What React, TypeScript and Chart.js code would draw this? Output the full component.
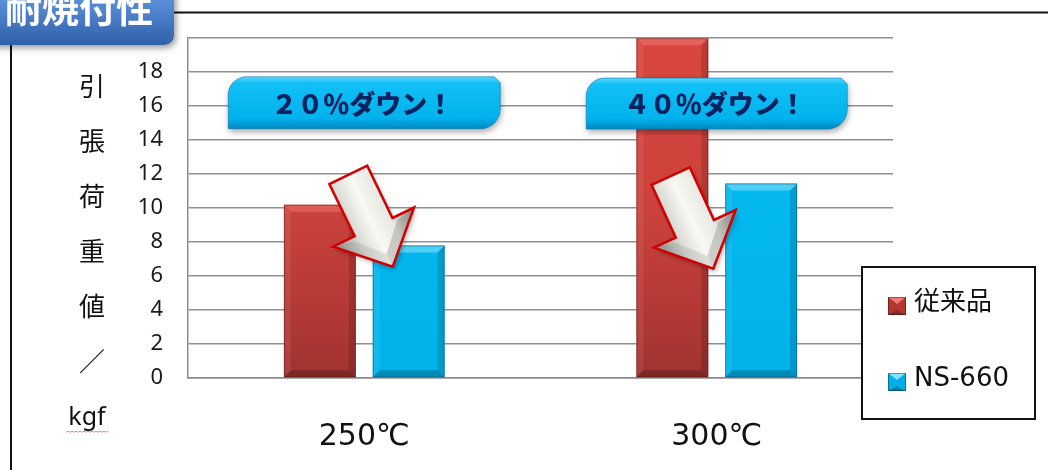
import React, { useEffect, useRef } from "react";
import { Chart, registerables } from "chart.js";

Chart.register(...registerables);

// ---------- data ----------
const categories = ["250℃", "300℃"];
const seriesNames = ["従来品", "NS-660"];
const conventionalValues = [10.2, 20];
const ns660Values = [7.8, 11.45];
const yMin = 0;
const yMax = 20;
const yStep = 2;
const hiddenTickValues = [20];
const chartTitle = "耐焼付性";
const yTitleParts = ["引", "張", "荷", "重", "値", "／", "kgf"];
const calloutTexts = ["２０％ダウン！", "４０％ダウン！"];

// ---------- annotation layout (positions / sizes only) ----------
const calloutLayout = [
  { cat: 0, dx: 0, yVal: 16.2, w: 272, h: 52 },
  { cat: 1, dx: 0, yVal: 16.15, w: 261, h: 51 },
];
const arrowLayout = [
  { cat: 0, dx: 28.5, tipVal: 6.55, angle: -25.8 },
  { cat: 1, dx: -3.5, tipVal: 6.43, angle: -24.7 },
];

const CJK = '"Noto Sans CJK JP", "DejaVu Sans", sans-serif';

function roundDiagRect(ctx: CanvasRenderingContext2D, x0: number, y0: number, x1: number, y1: number) {
  const r1 = 18, r2 = 20, c = 6;
  ctx.beginPath();
  ctx.moveTo(x0, y1);
  ctx.lineTo(x0, y0 + r1);
  ctx.arcTo(x0, y0, x0 + r1, y0, r1);
  ctx.lineTo(x1 - c, y0);
  ctx.lineTo(x1, y0 + c);
  ctx.lineTo(x1, y1 - r2);
  ctx.arcTo(x1, y1, x1 - r2, y1, r2);
  ctx.lineTo(x0, y1);
  ctx.closePath();
}

function drawArrow(ctx: CanvasRenderingContext2D, tx: number, ty: number, angleDeg: number) {
  const pts = [[0, 0], [45, -44], [21, -44], [21, -102], [-21, -102], [-21, -44], [-45, -44]];
  ctx.save();
  ctx.translate(tx, ty);
  ctx.rotate((angleDeg * Math.PI) / 180);
  ctx.beginPath();
  pts.forEach((p, i) => (i ? ctx.lineTo(p[0], p[1]) : ctx.moveTo(p[0], p[1])));
  ctx.closePath();
  ctx.shadowColor = "rgba(0,0,0,0.3)";
  ctx.shadowBlur = 5;
  ctx.shadowOffsetX = 2;
  ctx.shadowOffsetY = 3;
  const g = ctx.createLinearGradient(-45, 0, 45, 0);
  g.addColorStop(0, "#8a8a86");
  g.addColorStop(0.3, "#dcdcd6");
  g.addColorStop(0.5, "#f8f8f4");
  g.addColorStop(0.72, "#e8e8e2");
  g.addColorStop(1, "#8e8e8a");
  ctx.fillStyle = g;
  ctx.fill();
  ctx.shadowColor = "transparent";
  ctx.beginPath();
  ctx.moveTo(0, 0);
  ctx.lineTo(45, -44);
  ctx.lineTo(24, -40);
  ctx.lineTo(0, -14);
  ctx.closePath();
  ctx.fillStyle = "rgba(90,90,85,0.25)";
  ctx.fill();
  ctx.beginPath();
  ctx.moveTo(0, 0);
  ctx.lineTo(-45, -44);
  ctx.lineTo(-24, -40);
  ctx.lineTo(0, -14);
  ctx.closePath();
  ctx.fillStyle = "rgba(120,120,115,0.18)";
  ctx.fill();
  ctx.beginPath();
  pts.forEach((p, i) => (i ? ctx.lineTo(p[0], p[1]) : ctx.moveTo(p[0], p[1])));
  ctx.closePath();
  ctx.strokeStyle = "#d20000";
  ctx.lineWidth = 2.5;
  ctx.lineJoin = "miter";
  ctx.stroke();
  ctx.restore();
}

function drawMarker(ctx: CanvasRenderingContext2D, x: number, y: number, s: number, base: string, light: string) {
  ctx.fillStyle = base;
  ctx.fillRect(x, y, s, s);
  const b = 5;
  ctx.beginPath();
  ctx.moveTo(x, y);
  ctx.lineTo(x + s, y);
  ctx.lineTo(x + s / 2, y + b + 2);
  ctx.closePath();
  ctx.fillStyle = light;
  ctx.fill();
  ctx.beginPath();
  ctx.moveTo(x, y + s);
  ctx.lineTo(x + s, y + s);
  ctx.lineTo(x + s / 2, y + s - b);
  ctx.closePath();
  ctx.fillStyle = "rgba(0,0,0,0.25)";
  ctx.fill();
  ctx.strokeStyle = "rgba(0,0,0,0.35)";
  ctx.lineWidth = 1;
  ctx.strokeRect(x + 0.5, y + 0.5, s - 1, s - 1);
}

const decorPlugin = {
  id: "decor",
  beforeDraw(chart: any) {
    const ctx: CanvasRenderingContext2D = chart.ctx;
    ctx.save();
    ctx.fillStyle = "#ffffff";
    ctx.fillRect(0, 0, chart.width, chart.height);
    ctx.strokeStyle = "#111";
    ctx.lineWidth = 2;
    ctx.beginPath();
    ctx.moveTo(11, chart.height + 5);
    ctx.lineTo(11, 12.5);
    ctx.lineTo(chart.width + 5, 12.5);
    ctx.stroke();
    const bx1 = 174, by1 = 45, r = 10;
    ctx.beginPath();
    ctx.moveTo(-20, -20);
    ctx.lineTo(bx1, -20);
    ctx.lineTo(bx1, by1 - r);
    ctx.arcTo(bx1, by1, bx1 - r, by1, r);
    ctx.lineTo(-20, by1);
    ctx.closePath();
    ctx.shadowColor = "rgba(0,0,0,0.4)";
    ctx.shadowBlur = 6;
    ctx.shadowOffsetX = 2;
    ctx.shadowOffsetY = 3;
    const g = ctx.createLinearGradient(0, 0, 0, by1);
    g.addColorStop(0, "#5a8fd8");
    g.addColorStop(1, "#2f60a8");
    ctx.fillStyle = g;
    ctx.fill();
    ctx.shadowColor = "transparent";
    ctx.fillStyle = "#ffffff";
    ctx.font = `bold 37px ${CJK}`;
    ctx.textAlign = "center";
    ctx.textBaseline = "alphabetic";
    ctx.fillText(chartTitle, 79, 23);
    ctx.restore();
  },
  afterDatasetsDraw(chart: any) {
    const ctx: CanvasRenderingContext2D = chart.ctx;
    const xs = chart.scales.x;
    const ys = chart.scales.y;
    const ca = chart.chartArea;
    ctx.save();
    ctx.beginPath();
    ctx.rect(ca.left, ca.top - 1, ca.right - ca.left, ca.bottom - ca.top + 2);
    ctx.clip();
    chart.data.datasets.forEach((_ds: any, di: number) => {
      const meta = chart.getDatasetMeta(di);
      meta.data.forEach((bar: any) => {
        const p = bar.getProps(["x", "y", "base", "width"], true);
        const l = p.x - p.width / 2, rr = p.x + p.width / 2;
        const t = Math.min(p.y, p.base), b = Math.max(p.y, p.base);
        const bv = 7;
        const poly = (pts: number[][], fill: string) => {
          ctx.beginPath();
          pts.forEach((q, i) => (i ? ctx.lineTo(q[0], q[1]) : ctx.moveTo(q[0], q[1])));
          ctx.closePath();
          ctx.fillStyle = fill;
          ctx.fill();
        };
        poly([[l, t], [rr, t], [rr - bv, t + bv], [l + bv, t + bv]], di === 0 ? "rgba(255,150,140,0.35)" : "rgba(170,240,255,0.45)");
        poly([[l, t], [l + bv, t + bv], [l + bv, b - bv], [l, b]], "rgba(255,255,255,0.07)");
        poly([[rr, t], [rr - bv, t + bv], [rr - bv, b - bv], [rr, b]], "rgba(0,0,0,0.14)");
        poly([[l, b], [rr, b], [rr - bv, b - bv], [l + bv, b - bv]], "rgba(0,0,0,0.22)");
        ctx.strokeStyle = di === 0 ? "rgba(90,20,20,0.5)" : "rgba(0,80,120,0.5)";
        ctx.lineWidth = 1;
        ctx.strokeRect(l + 0.5, t + 0.5, p.width - 1, b - t - 1);
      });
    });
    ctx.restore();

    const catW = xs.getPixelForValue(1) - xs.getPixelForValue(0);
    arrowLayout.forEach((a) => {
      const tx = xs.getPixelForValue(a.cat) + a.dx * (catW / 353);
      const ty = ys.getPixelForValue(a.tipVal);
      drawArrow(ctx, tx, ty, a.angle);
    });
    calloutLayout.forEach((c, i) => {
      const cx = xs.getPixelForValue(c.cat) + c.dx;
      const cy = ys.getPixelForValue(c.yVal);
      const x0 = cx - c.w / 2, x1 = cx + c.w / 2, y0 = cy - c.h / 2, y1 = cy + c.h / 2;
      ctx.save();
      roundDiagRect(ctx, x0, y0, x1, y1);
      ctx.shadowColor = "rgba(0,0,0,0.35)";
      ctx.shadowBlur = 6;
      ctx.shadowOffsetX = 1;
      ctx.shadowOffsetY = 3;
      const g = ctx.createLinearGradient(0, y0, 0, y1);
      g.addColorStop(0, "#5ad6ff");
      g.addColorStop(0.12, "#12c0f6");
      g.addColorStop(0.8, "#00b2ec");
      g.addColorStop(1, "#0089c2");
      ctx.fillStyle = g;
      ctx.fill();
      ctx.shadowColor = "transparent";
      ctx.strokeStyle = "rgba(0,110,160,0.5)";
      ctx.lineWidth = 1;
      ctx.stroke();
      ctx.fillStyle = "#0a2260";
      ctx.font = `900 26px ${CJK}`;
      ctx.textAlign = "center";
      ctx.textBaseline = "middle";
      ctx.fillText(calloutTexts[i], cx - 2, cy + 1);
      ctx.restore();
    });
    const lx = 862, ly = 267, lw = 173, lh = 152;
    ctx.save();
    ctx.fillStyle = "#ffffff";
    ctx.fillRect(lx, ly, lw, lh);
    ctx.strokeStyle = "#111";
    ctx.lineWidth = 2;
    ctx.strokeRect(lx, ly, lw, lh);
    const rows = [306, 382];
    const bases = ["#b5352f", "#00aee8"];
    const lights = ["#f07a72", "#7fe2ff"];
    seriesNames.forEach((name, i) => {
      drawMarker(ctx, 888, rows[i] - 9, 18, bases[i], lights[i]);
      ctx.fillStyle = "#111";
      ctx.font = `26px "DejaVu Sans", ${CJK}`;
      ctx.textAlign = "left";
      ctx.textBaseline = "middle";
      ctx.fillText(name, 914, rows[i] - 3);
    });
    ctx.restore();
  },
  afterDraw(chart: any) {
    const ctx: CanvasRenderingContext2D = chart.ctx;
    const ca = chart.chartArea;
    ctx.save();
    ctx.fillStyle = "#111";
    ctx.textAlign = "center";
    ctx.textBaseline = "middle";
    yTitleParts.forEach((ch, i) => {
      const isLatin = /^[a-z]+$/i.test(ch);
      ctx.font = isLatin ? '25px "Noto Sans", sans-serif' : `26px ${CJK}`;
      ctx.fillText(ch, isLatin ? 87 : 92, ca.top + 48 + i * 55 + (isLatin ? 2 : 0));
    });
    const sy = ca.top + 48 + 6 * 55 + 15;
    ctx.strokeStyle = "rgba(235,90,90,0.75)";
    ctx.lineWidth = 1;
    ctx.beginPath();
    for (let x = 66; x <= 109; x += 2) {
      const yy = sy + ((x / 2) % 2 === 0 ? 0 : 1);
      if (x === 66) ctx.moveTo(x, yy);
      else ctx.lineTo(x, yy);
    }
    ctx.stroke();
    ctx.restore();
  },
};

export default function App() {
  const ref = useRef<HTMLCanvasElement | null>(null);
  useEffect(() => {
    if (!ref.current) return;
    const redGrad = (c: any) => {
      const ca = c.chart.chartArea;
      if (!ca) return "#c43d38";
      const g = c.chart.ctx.createLinearGradient(0, ca.top, 0, ca.bottom);
      g.addColorStop(0, "#d9463f");
      g.addColorStop(0.5, "#cc423c");
      g.addColorStop(1, "#a13330");
      return g;
    };
    const blueGrad = (c: any) => {
      const ca = c.chart.chartArea;
      if (!ca) return "#00b8f0";
      const g = c.chart.ctx.createLinearGradient(0, ca.top, 0, ca.bottom);
      g.addColorStop(0, "#06bcf4");
      g.addColorStop(1, "#00b2ea");
      return g;
    };
    const chart = new Chart(ref.current, {
      type: "bar",
      data: {
        labels: categories,
        datasets: [
          {
            label: seriesNames[0],
            data: conventionalValues,
            backgroundColor: redGrad,
            borderWidth: 0,
            categoryPercentage: 0.504,
            barPercentage: 0.809,
          },
          {
            label: seriesNames[1],
            data: ns660Values,
            backgroundColor: blueGrad,
            borderWidth: 0,
            categoryPercentage: 0.504,
            barPercentage: 0.809,
          },
        ],
      },
      plugins: [decorPlugin],
      options: {
        animation: false,
        responsive: false,
        devicePixelRatio: window.devicePixelRatio || 1,
        layout: { padding: { top: 35, right: 155, bottom: 0, left: 0 } },
        plugins: { legend: { display: false }, tooltip: { enabled: false } },
        scales: {
          x: {
            grid: { display: false },
            border: { display: true, color: "#8c8c8c", width: 1.5 },
            ticks: {
              color: "#111",
              font: { family: '"DejaVu Sans", sans-serif', size: 30 },
              padding: 33,
            },
            afterFit: (s: any) => {
              s.height = 92;
            },
          },
          y: {
            min: yMin,
            max: yMax,
            grid: { color: "#8f8f8f", lineWidth: 1.6, drawTicks: false },
            border: { display: true, color: "#8c8c8c", width: 1.5 },
            ticks: {
              stepSize: yStep,
              padding: 25,
              color: "#1a1a1a",
              font: { family: '"Noto Sans", sans-serif', size: 22 },
              callback: (v: any) => (hiddenTickValues.includes(Number(v)) ? "" : String(v)),
            },
            afterFit: (s: any) => {
              s.width = 188;
            },
          },
        },
      } as any,
    });
    return () => chart.destroy();
  }, []);
  return (
    <div style={{ position: "fixed", left: 0, top: 0, width: 1048, height: 470, background: "#fff" }}>
      <canvas ref={ref} width={1048} height={470} style={{ display: "block", width: 1048, height: 470 }} />
    </div>
  );
}
